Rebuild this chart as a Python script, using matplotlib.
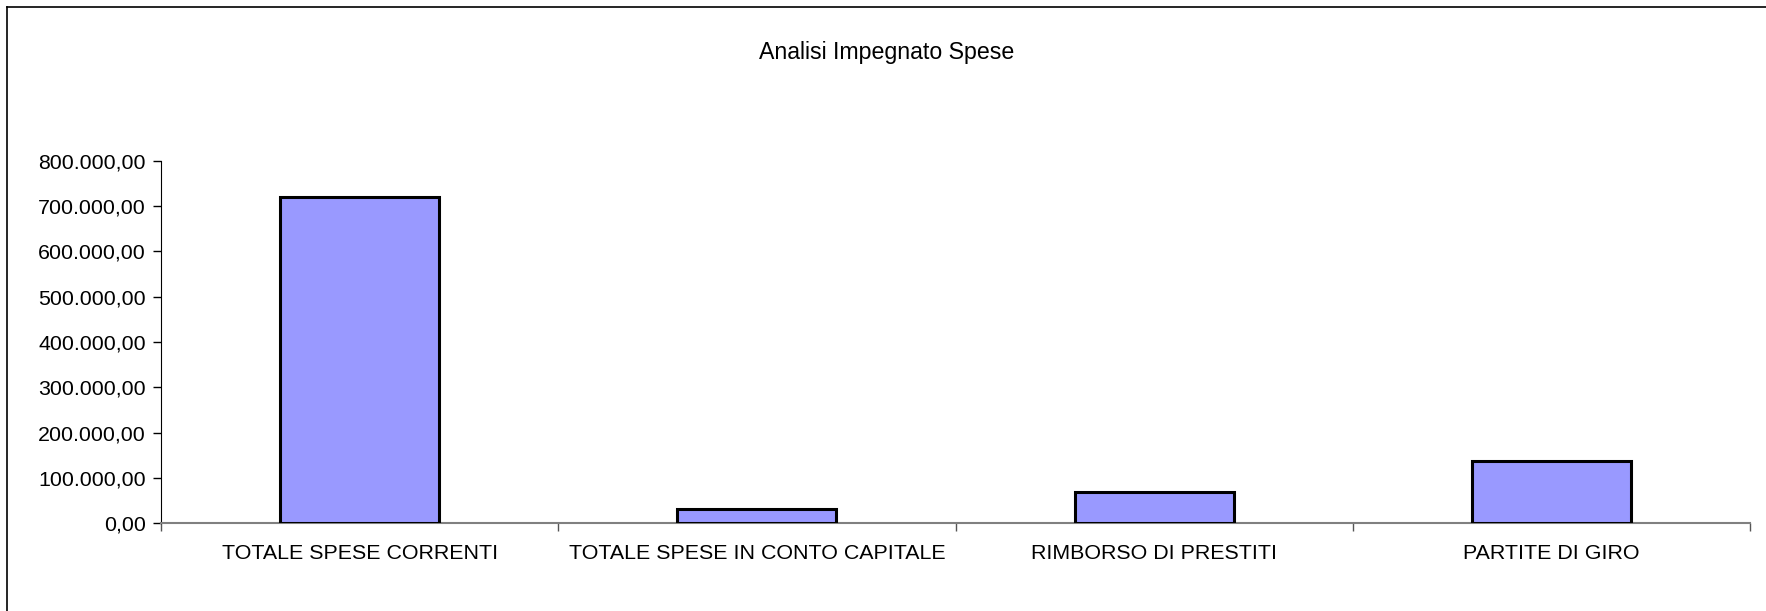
import matplotlib
matplotlib.use("Agg")
import matplotlib.pyplot as plt
from matplotlib.ticker import FuncFormatter, FixedLocator
from matplotlib.lines import Line2D

categories = ["TOTALE SPESE CORRENTI", "TOTALE SPESE IN CONTO CAPITALE",
              "RIMBORSO DI PRESTITI", "PARTITE DI GIRO"]
values = [720000, 30500, 69500, 138000]
y_ticks = [0, 100000, 200000, 300000, 400000, 500000, 600000, 700000, 800000]
title = "Analisi Impegnato Spese"

plt.rcParams['font.family'] = ['Liberation Sans', 'DejaVu Sans']

fig = plt.figure(figsize=(17.66, 6.11), dpi=100)
ax = fig.add_axes([161/1766, 1-523.3/611, (1750-161)/1766, (523.3-160.7)/611])

x = list(range(len(categories)))
ax.bar(x, values, width=0.4, color="#9999FF", edgecolor="black", linewidth=2.2, zorder=3)

ax.set_xlim(-0.5, len(categories) - 0.5)
ax.set_ylim(0, 800000)
ax.set_yticks(y_ticks)

def it_fmt(v, pos):
    s = f"{v:,.2f}"
    return s.replace(",", "X").replace(".", ",").replace("X", ".")
ax.yaxis.set_major_formatter(FuncFormatter(it_fmt))

ax.xaxis.set_major_locator(FixedLocator([i - 0.5 for i in range(len(categories) + 1)]))
ax.xaxis.set_major_formatter(FuncFormatter(lambda v, p: ""))
ax.xaxis.set_minor_locator(FixedLocator(x))
ax.set_xticklabels(categories, minor=True)
ax.tick_params(axis='x', which='minor', length=0, pad=15, labelsize=15.4)
ax.tick_params(axis='x', which='major', length=6, width=1, color="#555555", direction='out')
ax.tick_params(axis='y', length=6, width=1, pad=5, labelsize=15.4, direction='out')

for s in ("top", "right"):
    ax.spines[s].set_visible(False)
ax.spines["left"].set_color("black")
ax.spines["bottom"].set_color("#808080")
ax.spines["bottom"].set_linewidth(1.5)

fig.text(0.502, 1 - 52/611, title, ha="center", va="center", fontsize=16.7)

fig.add_artist(Line2D([7.5/1766, 7.5/1766], [0, 1 - 7/611], transform=fig.transFigure, color="black", lw=1.2))
fig.add_artist(Line2D([7.5/1766, 1], [1 - 7/611, 1 - 7/611], transform=fig.transFigure, color="black", lw=1.2))

fig.savefig("out.png", dpi=100)
